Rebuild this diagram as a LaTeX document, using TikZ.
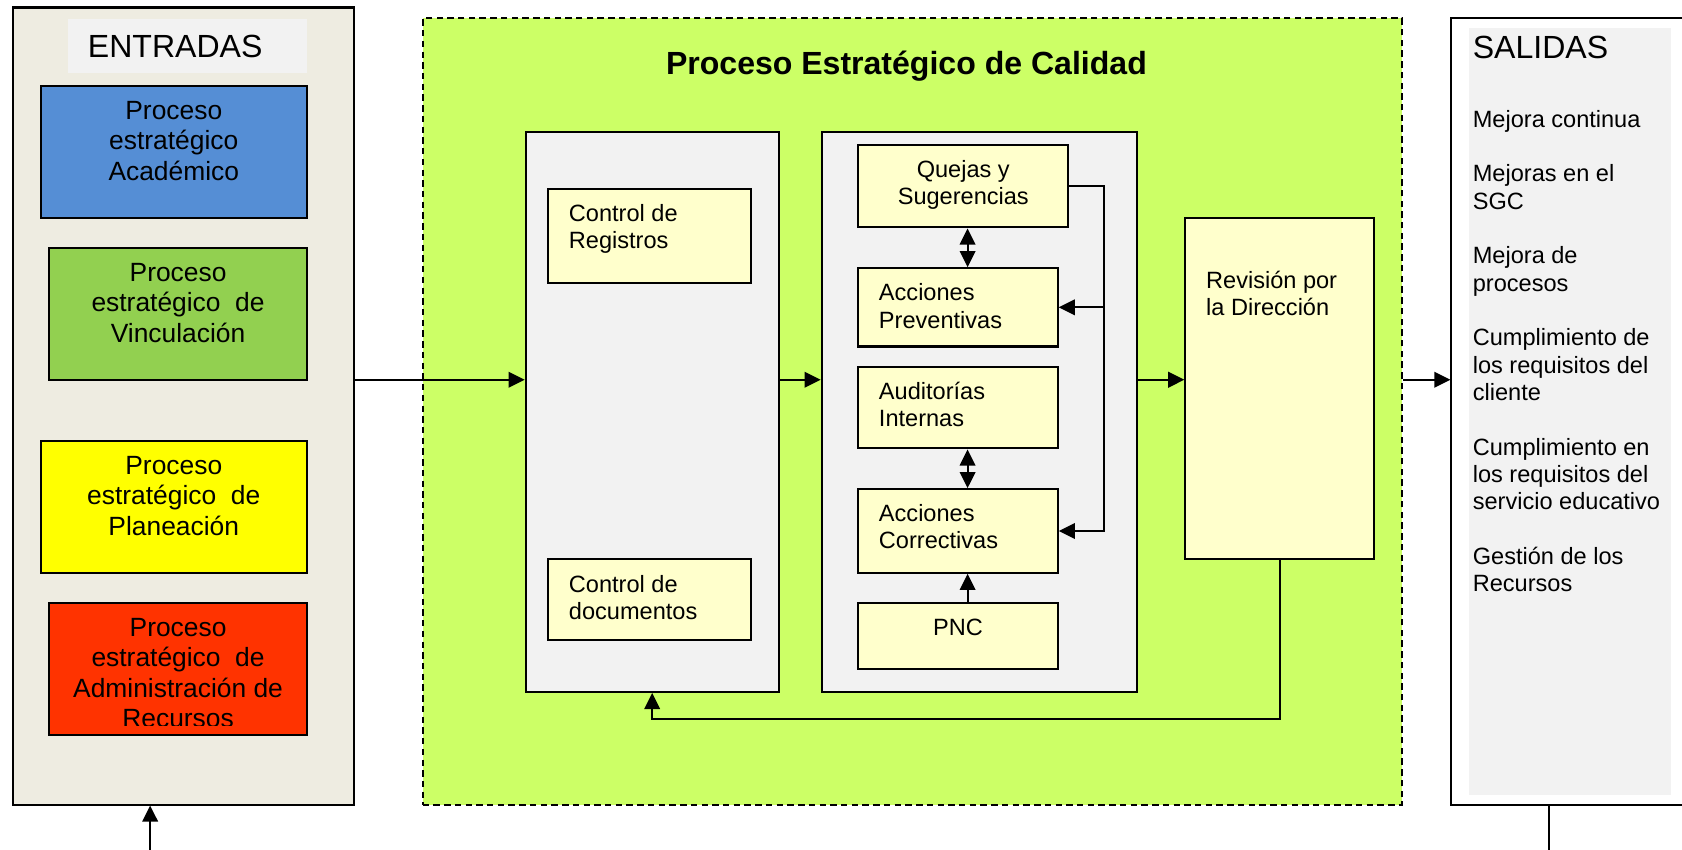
\documentclass[tikz,border=0pt]{standalone}
\usepackage{fontspec}
\setmainfont{Liberation Sans}
\usetikzlibrary{arrows.meta,fit,positioning}

\definecolor{fondoent}{HTML}{EEECE1}
\definecolor{gris}{HTML}{F2F2F2}
\definecolor{azul}{HTML}{558ED5}
\definecolor{verde}{HTML}{92D050}
\definecolor{amarillo}{HTML}{FFFF00}
\definecolor{rojo}{HTML}{FF3300}
\definecolor{fondocal}{HTML}{CCFF66}
\definecolor{crema}{HTML}{FFFFCC}

\tikzset{
  caja/.style={draw, line width=1.1pt, inner sep=0pt},
  tgrande/.style={font=\fontsize{17}{20}\selectfont, inner sep=0pt},
  titulo/.style={font=\fontsize{17}{20}\selectfont\bfseries, inner sep=0pt},
  tproceso/.style={font=\fontsize{14}{16.1}\selectfont, align=center, inner sep=0pt, anchor=north},
  tchico/.style={font=\fontsize{12.5}{14.5}\selectfont, align=left, inner sep=0pt, anchor=north west},
  flecha/.style={line width=1pt, ->}
}

\begin{document}
\begin{tikzpicture}[x=0.2mm, y=-0.2mm, >={Triangle[length=3mm,width=2.9mm]}]
\useasboundingbox (0,0) rectangle (1568,792);

% entradas
\node[caja, fill=fondoent, fit={(12,7) (330,750)}] (entradas) {};
\node[fill=gris, inner sep=0pt, fit={(63,18) (286,68)}] (rotuloent) {};
\node[tgrande, anchor=north west, below right=3mm and 3.8mm of rotuloent.north west] {ENTRADAS};
\foreach \n/\col/\xa/\ya/\t in {academico/azul/38/80/{Proceso\\estratégico\\Académico},
    vinculacion/verde/46/231/{Proceso\\estratégico\ \ de\\Vinculación},
    planeacion/amarillo/38/411/{Proceso\\estratégico\ \ de\\Planeación},
    recursos/rojo/46/562/{Proceso\\estratégico\ \ de\\Administración de\\Recursos}}
{
  \node[caja, fill=\col, fit={(\xa,\ya) (286,\ya+123)}] (\n) {};
  \begin{scope}
    \clip (\n.north west) rectangle ([yshift=2mm]\n.south east);
    \node[tproceso] at ([yshift=-3mm]\n.north) {\t};
  \end{scope}
}

% proceso de calidad
\node[caja, fill=fondocal, dash pattern=on 1.2mm off 0.8mm, fit={(394,17) (1307,750)}] (calidad) {};
\node[titulo, anchor=north] at (845,47) {Proceso Estratégico de Calidad};

\node[caja, fill=gris, fit={(490,123) (726,645)}] (control) {};
\node[caja, fill=crema, fit={(511,176) (700,264)}] (registros) {};
\node[tchico, below right=3mm and 4mm of registros.north west] {Control de\\Registros};
\node[caja, fill=crema, fit={(511,521) (700,597)}] (documentos) {};
\node[tchico, below right=3.2mm and 4mm of documentos.north west] {Control de\\documentos};

\node[caja, fill=gris, fit={(766,123) (1060,645)}] (seguimiento) {};
\node[caja, fill=crema, fit={(800,135) (996,212)}] (quejas) {};
\node[tchico, anchor=north, align=center, below=3mm of quejas.north] {Quejas y\\Sugerencias};
\node[caja, fill=crema, fit={(800,250) (986,323)}] (preventivas) {};
\node[tchico, below right=3mm and 4mm of preventivas.north west] {Acciones\\Preventivas};
\node[caja, fill=crema, fit={(800,342) (986,418)}] (auditorias) {};
\node[tchico, below right=3mm and 4mm of auditorias.north west] {Auditorías\\Internas};
\node[caja, fill=crema, fit={(800,456) (986,534)}] (correctivas) {};
\node[tchico, below right=3mm and 4mm of correctivas.north west] {Acciones\\Correctivas};
\node[caja, fill=crema, fit={(800,562) (986,624)}] (pnc) {};
\node[tchico, anchor=north, below=3.2mm of pnc.north] {PNC};

\node[caja, fill=crema, fit={(1105,203) (1281,521)}] (revision) {};
\node[tchico, below right=10mm and 4mm of revision.north west] {Revisión por\\la Dirección};

% salidas
\node[caja, fill=white, fit={(1353,17) (1580,750)}] (salidas) {};
\node[fill=gris, inner sep=0pt, fit={(1369,26) (1558,741)}] (panel) {};
\node[tgrande, anchor=north west, below right=1.6mm and 0.8mm of panel.north west] {SALIDAS};
\node[tchico, below right=15.3mm and 0.8mm of panel.north west] (lista) {Mejora continua\\[14.5pt]Mejoras en el\\SGC\\[14.5pt]Mejora de\\procesos\\[14.5pt]Cumplimiento de\\los requisitos del\\cliente\\[14.5pt]Cumplimiento en\\los requisitos del\\servicio educativo\\[14.5pt]Gestión de los\\Recursos};

% conexiones
\coordinate (flujo) at (0,354);
\draw[flecha] (entradas.east |- flujo) -- (control.west |- flujo);
\draw[flecha] (control.east |- flujo) -- (seguimiento.west |- flujo);
\draw[flecha] (seguimiento.east |- flujo) -- (revision.west |- flujo);
\draw[flecha] (calidad.east |- flujo) -- (salidas.west |- flujo);

\coordinate (lazo) at (1029,0);
\coordinate (eje) at (902,0);
\draw[flecha] (quejas.east) -| (lazo |- correctivas.east) -- (correctivas.east);
\draw[flecha] (lazo |- preventivas.east) -- (preventivas.east);
\draw[flecha, <->] (eje |- quejas.south) -- (eje |- preventivas.north);
\draw[flecha, <->] (eje |- auditorias.south) -- (eje |- correctivas.north);
\draw[flecha] (eje |- pnc.north) -- (eje |- correctivas.south);

\coordinate (retorno) at (0,670);
\draw[flecha] (revision.south) -- (revision.south |- retorno) -| (control.south);

\coordinate (entra) at (140,792);
\draw[flecha] (entra) -- (entra |- entradas.south);
\coordinate (sale) at (1444,792);
\draw[line width=1pt] (sale |- salidas.south) -- (sale);
\end{tikzpicture}
\end{document}
